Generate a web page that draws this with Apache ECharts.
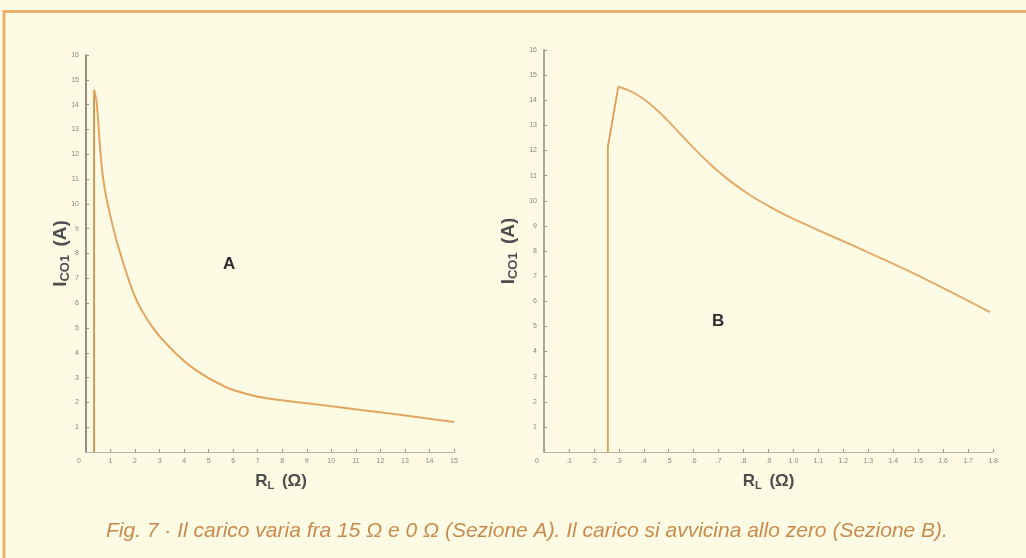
<!DOCTYPE html>
<html>
<head>
<meta charset="utf-8">
<script src="https://cdn.jsdelivr.net/npm/echarts@6/dist/echarts.min.js"></script>
<style>
  html, body { margin: 0; padding: 0; background: #fefbe4; }
  #chart { width: 1026px; height: 558px; }
</style>
</head>
<body>
<div id="chart"></div>
<script>
// Section A: load swept from 15 Ω down to 0 Ω
const riserA_rl = [0.33, 0.33];
const riserA_ic = [0, 14.6];
const curveA_rl = [0.33, 0.436, 0.571, 0.705, 0.909, 1.317, 2.0, 2.7, 3.52, 4.46, 5.69, 6.79, 7.73, 9.86, 12.56, 15.0];
const curveA_ic = [14.6, 14.07, 12.3, 10.97, 9.88, 8.27, 6.25, 5.04, 4.11, 3.31, 2.62, 2.28, 2.12, 1.86, 1.53, 1.21];

// Section B: load approaching zero
const riserB_rl = [0.256, 0.256, 0.298];
const riserB_ic = [0, 12.15, 14.54];
const curveB_rl = [0.298, 0.338, 0.392, 0.445, 0.498, 0.552, 0.605, 0.672, 0.739, 0.819, 0.913, 1.006, 1.215, 1.48, 1.788];
const curveB_ic = [14.54, 14.40, 14.10, 13.68, 13.17, 12.60, 12.05, 11.40, 10.84, 10.27, 9.72, 9.25, 8.32, 7.12, 5.57];

// Tick labels
const xTicksA = ['0','1','2','3','4','5','6','7','8','9','10','11','12','13','14','15'];
const xTicksB = ['0','.1','.2','.3','.4','.5','.6','.7','.8','.9','1.0','1.1','1.2','1.3','1.4','1.5','1.6','1.7','1.8'];
const yTicks  = ['0','1','2','3','4','5','6','7','8','9','10','11','12','13','14','15','16'];

const caption = 'Fig. 7 · Il carico varia fra 15 Ω e 0 Ω (Sezione A). Il carico si avvicina allo zero (Sezione B).';

const pairs = (xs, ys) => xs.map((x, i) => [x, ys[i]]);

const tickLabelStyle = { color: '#8a8580', fontSize: 7, fontFamily: 'Liberation Sans' };
const xNameRich = {
  big: { fontSize: 17, fontWeight: 'bold', color: '#4e4e4e', fontFamily: 'Liberation Sans' },
  sub: { fontSize: 11, fontWeight: 'bold', color: '#4e4e4e', fontFamily: 'Liberation Sans', verticalAlign: 'bottom', padding: [9, 0, 0, 0] },
  gap: { fontSize: 17, padding: [0, 3, 0, 0] }
};
const yNameRich = {
  big: { fontSize: 19, fontWeight: 'bold', color: '#4e4e4e', fontFamily: 'Liberation Sans' },
  sub: { fontSize: 13, fontWeight: 'bold', color: '#4e4e4e', fontFamily: 'Liberation Sans', verticalAlign: 'bottom', padding: [10, 0, 0, 0] },
  gap: { fontSize: 19, padding: [0, 3, 0, 0] }
};

function xAxisCfg(gridIndex, max, interval, labels, scale, shift) {
  return {
    type: 'value', gridIndex, min: 0, max, interval,
    name: '{big|R}{sub|L}{gap| }{big|(Ω)}',
    nameLocation: 'middle', nameGap: 19,
    nameTextStyle: { rich: xNameRich, padding: [0, 0, 0, shift] },
    axisLine: { lineStyle: { color: '#b9b4a8', width: 1 } },
    axisTick: { show: true, length: 3, inside: true, lineStyle: { color: '#9a958c' } },
    splitLine: { show: false },
    axisLabel: Object.assign({}, tickLabelStyle, {
      margin: 6,
      formatter: v => {
        const s = labels[Math.round(v * scale)];
        return v === 0 ? '{z|' + s + '}' : s;
      },
      rich: { z: Object.assign({}, tickLabelStyle, { padding: [0, 14, 0, 0] }) }
    })
  };
}

function yAxisCfg(gridIndex, lineColor, gap) {
  return {
    type: 'value', gridIndex, min: 0, max: 16, interval: 1,
    name: '{big|I}{sub|CO1}{gap| }{big|(A)}',
    nameLocation: 'middle', nameGap: gap, nameMoveOverlap: false,
    nameTextStyle: { rich: yNameRich },
    axisLine: { show: true, lineStyle: { color: lineColor, width: 1.5 } },
    axisTick: { show: true, length: 3, inside: true, lineStyle: { color: '#9a958c' } },
    splitLine: { show: false },
    axisLabel: Object.assign({}, tickLabelStyle, {
      margin: 7, showMinLabel: false,
      formatter: v => yTicks[Math.round(v)]
    })
  };
}

const chart = echarts.init(document.getElementById('chart'), null, { renderer: 'canvas' });

chart.setOption({
  backgroundColor: '#fefbe4',
  animation: false,
  title: {
    text: caption,
    left: 101, top: 516,
    textStyle: {
      fontFamily: 'Liberation Sans, sans-serif',
      fontStyle: 'italic', fontWeight: 'normal',
      fontSize: 21, color: '#c98a4e'
    }
  },
  grid: [
    { left: 86, top: 55, width: 368, height: 397 },
    { left: 544, top: 50, width: 449, height: 402 }
  ],
  xAxis: [
    xAxisCfg(0, 15, 1, xTicksA, 1, 22),
    xAxisCfg(1, 1.8, 0.1, xTicksB, 10, 0)
  ],
  yAxis: [
    yAxisCfg(0, '#7d6a5c', 14),
    yAxisCfg(1, '#948a80', 24)
  ],
  series: [
    {
      type: 'line', xAxisIndex: 0, yAxisIndex: 0, symbol: 'none', smooth: false,
      data: pairs(riserA_rl, riserA_ic),
      lineStyle: { color: '#cf9a55', width: 2 }
    },
    {
      type: 'line', xAxisIndex: 0, yAxisIndex: 0, symbol: 'none', smooth: 0.3,
      data: pairs(curveA_rl, curveA_ic),
      lineStyle: { color: '#e3a562', width: 2 }
    },
    {
      type: 'line', xAxisIndex: 1, yAxisIndex: 1, symbol: 'none', smooth: false,
      data: pairs(riserB_rl, riserB_ic),
      lineStyle: { color: '#e49b58', width: 1.8 }
    },
    {
      type: 'line', xAxisIndex: 1, yAxisIndex: 1, symbol: 'none', smooth: 0.3,
      data: pairs(curveB_rl, curveB_ic),
      lineStyle: { color: '#e3aa6a', width: 2 }
    }
  ],
  graphic: [
    {
      type: 'polyline', silent: true,
      shape: { points: [[4, 558], [4, 11.5], [1026, 11.5]] },
      style: { stroke: '#ebb06b', lineWidth: 3, fill: null }
    },
    {
      type: 'text', left: 223, top: 256,
      style: { text: 'A', fontSize: 17, fontWeight: 'bold', fill: '#2e2e2e', fontFamily: 'Liberation Sans' }
    },
    {
      type: 'text', left: 712, top: 313,
      style: { text: 'B', fontSize: 17, fontWeight: 'bold', fill: '#2e2e2e', fontFamily: 'Liberation Sans' }
    }
  ]
});
</script>
</body>
</html>
